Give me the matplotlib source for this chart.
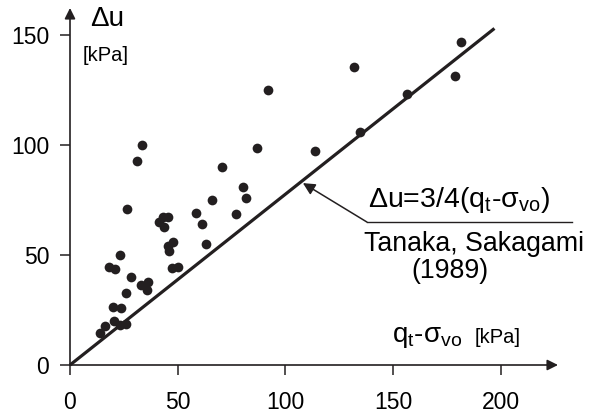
import matplotlib
matplotlib.use('Agg')
import matplotlib.pyplot as plt

plt.rcParams['font.family'] = ['Liberation Sans', 'DejaVu Sans']
plt.rcParams['mathtext.default'] = 'regular'

INK = '#231f20'

# measured points: net stress q_t - sigma_vo and excess pore pressure, kPa
q_net = [33.3, 31.2, 26.3, 70.4, 86.6, 80.1, 81.5, 65.7, 58.5, 61.1, 77.0, 63.1,
         45.6, 43.3, 41.4, 43.6, 47.6, 45.6, 45.8, 47.5, 50.3, 23.2, 18.2, 20.9,
         28.2, 32.8, 36.3, 35.6, 26.0, 19.8, 23.5, 20.4, 16.2, 23.2, 25.8, 13.9,
         181.7, 178.7, 131.9, 156.2, 134.6, 91.7, 113.7]
du = [100.0, 92.9, 70.8, 90.2, 98.5, 81.0, 75.7, 75.0, 69.2, 64.1, 68.8, 55.0,
      67.4, 67.4, 65.0, 62.6, 56.0, 54.2, 52.0, 44.0, 44.4, 49.9, 44.7, 43.5,
      39.8, 36.4, 37.9, 34.1, 32.9, 26.2, 26.1, 20.2, 17.7, 18.2, 18.6, 14.7,
      147.0, 131.5, 135.6, 123.2, 106.0, 125.0, 97.4]

# Tanaka & Sakagami (1989) line, as drawn
line_x = [0, 197]
line_y = [0, 153]

x_ticks = [0, 50, 100, 150, 200]
y_ticks = [0, 50, 100, 150]

fig = plt.figure(figsize=(5.93, 4.16), dpi=100)
ax = fig.add_axes([70 / 593, 51 / 416, 488 / 593, 357 / 416])
ax.set_xlim(0, 226.5)
ax.set_ylim(0, 162.3)

for s in ax.spines.values():
    s.set_visible(False)

# axes drawn as arrows
ax.annotate('', xy=(1, 0), xytext=(0, 0), xycoords='axes fraction',
            arrowprops=dict(arrowstyle='-|>', color=INK, lw=1.2, mutation_scale=16,
                            shrinkA=0, shrinkB=0))
ax.annotate('', xy=(0, 1), xytext=(0, 0), xycoords='axes fraction',
            arrowprops=dict(arrowstyle='-|>', color=INK, lw=1.2, mutation_scale=16,
                            shrinkA=0, shrinkB=0))

ax.set_xticks(x_ticks)
ax.set_yticks(y_ticks)
ax.tick_params(axis='x', direction='out', length=7, width=1.1, color=INK,
               labelsize=16.5, pad=12, labelcolor='black')
ax.tick_params(axis='y', direction='out', length=7, width=1.1, color=INK,
               labelsize=16.5, pad=8, labelcolor='black')

ax.plot(line_x, line_y, color=INK, lw=2.3, solid_capstyle='butt', clip_on=False)
ax.plot(q_net, du, 'o', color=INK, ms=7, mec='none', clip_on=False)

# axis titles
ax.text(9.3, 157.3, '\u0394u', fontsize=20, va='center', ha='left', clip_on=False)
ax.text(6.0, 140.5, '[kPa]', fontsize=14.5, va='center', ha='left')
ax.text(149.4, 10.5, 'q$_t$-\u03c3$_{vo}$', fontsize=20, va='baseline', ha='left')
ax.text(188.0, 12.3, '[kPa]', fontsize=14.5, va='center', ha='left')

# equation with leader line
ax.text(138.3, 71.8, '\u0394u=3/4(q$_t$-\u03c3$_{vo}$)', fontsize=20.5,
        va='baseline', ha='left')
ax.plot([137.8, 232.9], [65, 65], color=INK, lw=1.0, clip_on=False)
ax.annotate('', xy=(108.1, 82.7), xytext=(137.8, 65),
            arrowprops=dict(arrowstyle='-|>', color=INK, lw=1.1, mutation_scale=18,
                            shrinkA=0, shrinkB=0))
ax.text(136.5, 55.0, 'Tanaka, Sakagami', fontsize=19.3, va='center', ha='left')
ax.text(176.5, 42.7, '(1989)', fontsize=19.3, va='center', ha='center')

fig.savefig('out.png', dpi=100)
